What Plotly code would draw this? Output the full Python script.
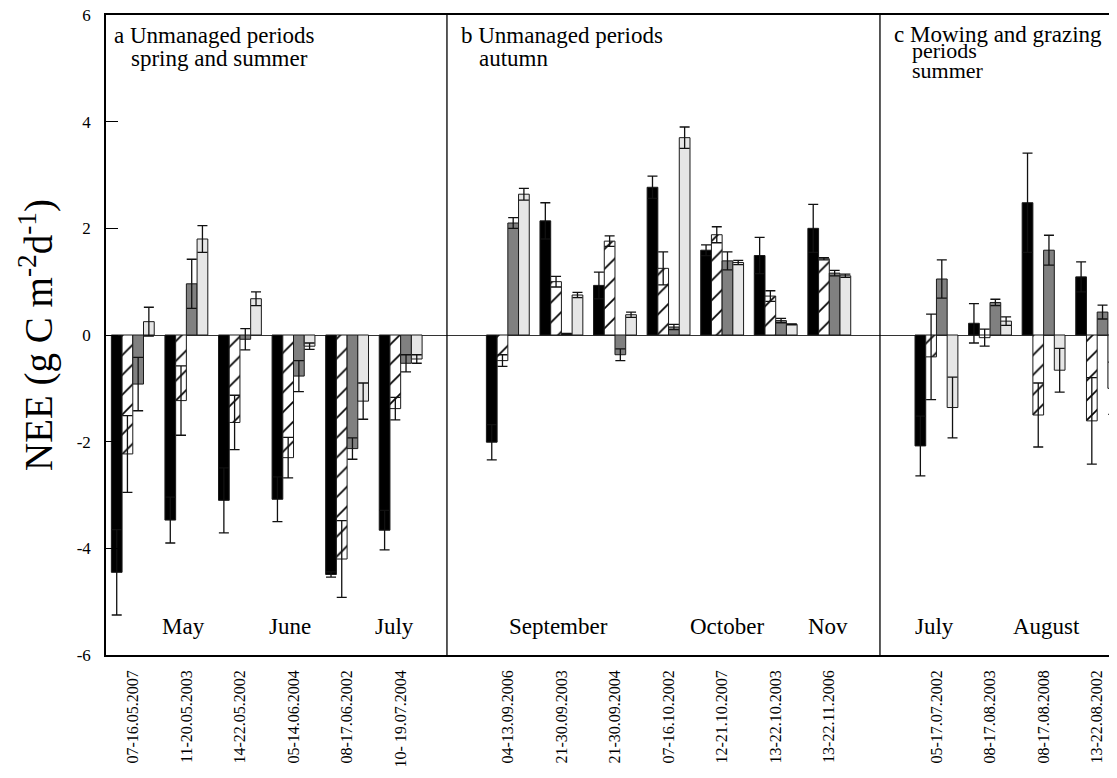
import plotly.graph_objects as go

# ---------------- data ----------------
labels_a = ["07-16.05.2007", "11-20.05.2003", "14-22.05.2002", "05-14.06.2004",
            "08-17.06.2002", "10- 19.07.2004"]
labels_b = ["04-13.09.2006", "21-30.09.2003", "21-30.09.2004", "07-16.10.2002",
            "12-21.10.2007", "13-22.10.2003", "13-22.11.2006"]
labels_c = ["05-17.07.2002", "08-17.08.2003", "08-17.08.2008", "13-22.08.2002"]

black = [-4.45, -3.47, -3.10, -3.08, -4.49, -3.66,
         -2.01, 2.14, 0.93, 2.77, 1.59, 1.49, 2.00,
         -2.08, 0.22, 2.48, 1.09]
black_err = [0.80, 0.43, 0.61, 0.42, 0.05, 0.37,
             0.33, 0.34, 0.25, 0.21, 0.10, 0.34, 0.45,
             0.56, 0.37, 0.93, 0.28]

hatched = [-2.23, -1.23, -1.64, -2.30, -4.20, -1.38,
           -0.48, 1.00, 1.76, 1.25, 1.88, 0.73, 1.43,
           -0.41, -0.05, -1.50, -1.61]
hatched_err = [0.72, 0.65, 0.51, 0.38, 0.72, 0.21,
               0.11, 0.10, 0.10, 0.31, 0.15, 0.10, 0.02,
               0.80, 0.16, 0.60, 0.81]

dark = [-0.92, 0.96, -0.08, -0.77, -2.13, -0.53,
        2.10, 0.02, -0.37, 0.15, 1.39, 0.27, 1.16,
        1.05, 0.61, 1.59, 0.43]
dark_err = [0.50, 0.46, 0.20, 0.29, 0.20, 0.16,
            0.10, 0.01, 0.11, 0.05, 0.17, 0.04, 0.05,
            0.36, 0.06, 0.28, 0.13]

light = [0.25, 1.80, 0.68, -0.21, -1.24, -0.45,
         2.64, 0.75, 0.38, 3.70, 1.36, 0.20, 1.11,
         -1.36, 0.26, -0.66, -1.00]
light_err = [0.27, 0.25, 0.13, 0.06, 0.34, 0.08,
             0.11, 0.05, 0.05, 0.20, 0.04, 0.01, 0.03,
             0.57, 0.08, 0.41, 0.49]

y_ticks = [-6, -4, -2, 0, 2, 4, 6]
y_ticktext = ["-6", "-4", "-2", "0", "2", "4", "6"]

months = ["May", "June", "July", "September", "October", "Nov", "July", "August"]
month_pos = [0.94, 2.93, 4.88, 7.94, 11.09, 12.98, 14.97, 17.06]

# ---------------- layout helpers ----------------
slots = labels_a + [None] + labels_b + [None] + labels_c
xpos = [i for i, s in enumerate(slots) if s is not None]
xlabels = [s for s in slots if s is not None]

SERIF = "Liberation Serif"

fig = go.Figure()

def add(vals, errs, color, pattern=None):
    marker = dict(color=color, line=dict(color="#1a1a1a", width=1))
    if pattern:
        marker["pattern"] = pattern
    fig.add_trace(go.Bar(
        x=xpos, y=vals, marker=marker,
        error_y=dict(type="data", array=errs, visible=True,
                     color="#111111", thickness=1.3, width=5),
        hoverinfo="x+y"))

add(black, black_err, "#000000")
add(hatched, hatched_err, "#ffffff",
    dict(shape="/", bgcolor="#ffffff", fgcolor="#000000", size=14, solidity=0.12,
         fillmode="replace"))
add(dark, dark_err, "#808080")
add(light, light_err, "#e6e6e6")

# panel dividers
for xd in [5.864, 13.946]:
    fig.add_shape(type="line", x0=xd, x1=xd, y0=-6, y1=6, xref="x", yref="y",
                  line=dict(color="#000000", width=1.3))

# right-side tick stubs (axis is cut off at the image edge)
for yv in [4, 2, -2, -4]:
    fig.add_shape(type="line", x0=1 - 6 / 1011, x1=1, y0=yv, y1=yv,
                  xref="paper", yref="y", line=dict(color="#000000", width=1))

# month labels
for m, p in zip(months, month_pos):
    fig.add_annotation(x=p, y=-5.47, xref="x", yref="y", text=m, showarrow=False,
                       font=dict(family=SERIF, size=23, color="#000"),
                       xanchor="center", yanchor="middle")

# panel titles
titles = [
    ("a Unmanaged periods", -0.37, 5.61, 23),
    ("spring and summer", -0.06, 5.19, 23),
    ("b Unmanaged periods", 6.11, 5.61, 23),
    ("autumn", 6.44, 5.19, 23),
    ("c Mowing and grazing", 14.19, 5.64, 23),
    ("periods", 14.52, 5.33, 22),
    ("summer", 14.52, 4.96, 22),
]
for t, xx, yy, fs in titles:
    fig.add_annotation(x=xx, y=yy, xref="x", yref="y", text=t, showarrow=False,
                       font=dict(family=SERIF, size=fs, color="#000"),
                       xanchor="left", yanchor="middle", borderpad=0)

# y-axis title
fig.add_annotation(x=-70 / 1011, y=0.5, xref="paper", yref="paper",
                   text="NEE (g C m<sup>-2</sup>d<sup>-1</sup>)", textangle=-90,
                   showarrow=False, font=dict(family=SERIF, size=39, color="#000"),
                   xanchor="center", yanchor="middle")

# the page body adds an 8 px offset, so the figure is 8 px smaller on each side
fig.update_layout(
    width=1109, height=762,
    margin=dict(l=98, r=0, t=7, b=115, autoexpand=False),
    paper_bgcolor="white", plot_bgcolor="white",
    barmode="group", bargap=0.2, bargroupgap=0,
    showlegend=False,
    font=dict(family=SERIF, color="#000"),
    xaxis=dict(range=[-0.5, 18.37], tickmode="array", tickvals=xpos, ticktext=xlabels,
               tickangle=-90, tickfont=dict(family=SERIF, size=16, color="#000"),
               showline=True, linecolor="#000", linewidth=1.5, mirror=True,
               ticks="", showgrid=False, zeroline=False, ticklabelstandoff=7,
               automargin=False, ticklabeloverflow="allow"),
    yaxis=dict(range=[-6, 6], tickmode="array", tickvals=y_ticks, ticktext=y_ticktext,
               ticks="inside", ticklen=12, tickwidth=1, tickcolor="#000",
               showline=True, linecolor="#000", linewidth=1.5, mirror=False,
               showgrid=False, zeroline=True, zerolinecolor="#333", zerolinewidth=1.3,
               tickfont=dict(family=SERIF, size=17, color="#000"),
               ticklabelstandoff=10, automargin=False, ticklabeloverflow="allow"),
)

fig.write_html("out.html")
